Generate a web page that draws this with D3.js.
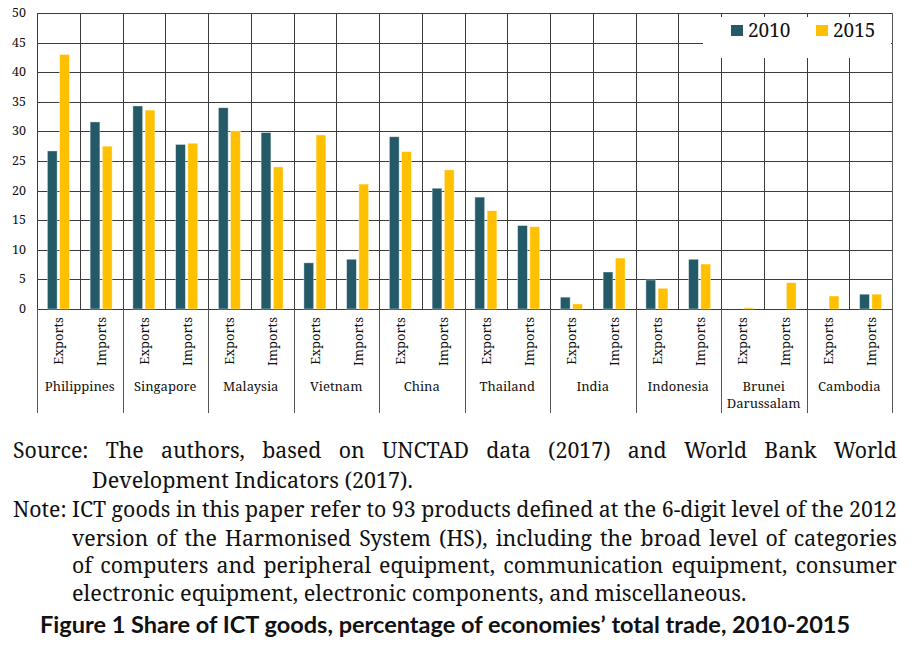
<!DOCTYPE html>
<html><head><meta charset="utf-8">
<script src="https://cdn.jsdelivr.net/npm/d3@7"></script>
<style>body{margin:0;background:#fff}svg{display:block}</style>
</head><body>
<svg id="c" width="917" height="653"></svg>
<script>
const countries = ["Philippines","Singapore","Malaysia","Vietnam","China","Thailand","India","Indonesia","Brunei Darussalam","Cambodia"];
const flows = ["Exports","Imports"];
const years = ["2010","2015"];
const values2010 = [26.7,31.6, 34.3,27.8, 34.0,29.8, 7.8,8.4, 29.1,20.4, 18.9,14.1, 2.0,6.25, 4.9,8.4, 0,0, 0,2.5];
const values2015 = [43.0,27.5, 33.6,28.0, 30.1,24.0, 29.4,21.1, 26.6,23.5, 16.6,13.9, 0.85,8.6, 3.5,7.6, 0.2,4.45, 2.2,2.5];
const yTicks = [0,5,10,15,20,25,30,35,40,45,50];
const colors = {"2010":"#245a68","2015":"#ffc000"};
const sourceLines = [
  "Source: The authors, based on UNCTAD data (2017) and World Bank World",
  "Development Indicators (2017)."
];
const noteLines = [
  "Note: ICT goods in this paper refer to 93 products defined at the 6-digit level of the 2012",
  "version of the Harmonised System (HS), including the broad level of categories",
  "of computers and peripheral equipment, communication equipment, consumer",
  "electronic equipment, electronic components, and miscellaneous."
];
const titleText = "Figure 1 Share of ICT goods, percentage of economies’ total trade, 2010-2015";

const svg = d3.select("#c");
const L = 37, R = 892, T = 13, B = 309;
const serif = "'Noto Serif','Liberation Serif',serif";

const cells = [];
countries.forEach((c,i)=>flows.forEach((f,j)=>cells.push({country:c, flow:f, idx:i*2+j,
  v2010: values2010[i*2+j], v2015: values2015[i*2+j]})));

const x = d3.scaleBand().domain(cells.map(d=>d.idx)).range([L,R]);
const xc = d3.scaleBand().domain(countries).range([L,R]);
const y = d3.scaleLinear().domain([0,50]).range([B,T]);

const grid = svg.append("g").attr("shape-rendering","crispEdges").attr("stroke","#3c3c3c").attr("stroke-width",1);
grid.selectAll("line.h").data(yTicks).join("line")
  .attr("x1",L).attr("x2",R).attr("y1",d=>Math.round(y(d))+0.5).attr("y2",d=>Math.round(y(d))+0.5);
grid.selectAll("line.v").data(d3.range(21)).join("line")
  .attr("x1",d=>Math.round(L+d*x.step())+0.5).attr("x2",d=>Math.round(L+d*x.step())+0.5)
  .attr("y1",T).attr("y2",B);
grid.selectAll("line.s").data(d3.range(11)).join("line")
  .attr("stroke","#555")
  .attr("x1",d=>Math.round(L+d*xc.step())+0.5).attr("x2",d=>Math.round(L+d*xc.step())+0.5)
  .attr("y1",B).attr("y2",413);

// legend
const lg = svg.append("g");
lg.append("rect").attr("x",703).attr("y",17).attr("width",188).attr("height",41).attr("fill","#fff");
years.forEach((yr,i)=>{
  const lx = 731 + i*85;
  lg.append("rect").attr("x",lx).attr("y",25).attr("width",12).attr("height",11).attr("fill",colors[yr]);
  lg.append("text").attr("x",lx+17).attr("y",37).attr("font-family",serif).attr("font-size",19)
    .attr("fill","#111").text(yr);
});
svg.append("line").attr("x1",R+0.5).attr("x2",R+0.5).attr("y1",T).attr("y2",B).attr("stroke","#555").attr("shape-rendering","crispEdges");

// bars
const xs = d3.scaleBand().domain(years).range([-11,11]).paddingInner(0.2);
const bars = svg.append("g");
cells.forEach(d=>{
  const cx = x(d.idx) + x.bandwidth()/2;
  years.forEach(yr=>{
    const v = yr==="2010" ? d.v2010 : d.v2015;
    if (v<=0) return;
    bars.append("rect")
      .attr("x", cx + xs(yr)).attr("width", xs.bandwidth())
      .attr("y", y(v)).attr("height", y(0)-y(v))
      .attr("fill", colors[yr]).attr("stroke","rgba(255,255,255,0.5)").attr("stroke-width",0.8);
  });
});

// y tick labels
svg.append("g").selectAll("text").data(yTicks).join("text")
  .attr("x",26).attr("y",d=>y(d)+4).attr("text-anchor","end")
  .attr("font-family",serif).attr("font-size",12.5).attr("fill","#111").text(d=>d);

// flow labels
svg.append("g").selectAll("text").data(cells).join("text")
  .attr("transform",d=>`translate(${x(d.idx)+x.bandwidth()/2+5},317) rotate(-90)`)
  .attr("text-anchor","end").attr("font-family",serif).attr("font-size",13).attr("fill","#111")
  .text(d=>d.flow);

// country labels
const cl = svg.append("g");
countries.forEach(c=>{
  const cx = xc(c)+xc.bandwidth()/2;
  const parts = c==="Brunei Darussalam" ? ["Brunei","Darussalam"] : [c];
  parts.forEach((p,k)=>cl.append("text").attr("x",cx).attr("y",391+k*17)
    .attr("text-anchor","middle").attr("font-family",serif).attr("font-size",13).attr("fill","#111").text(p));
});

// notes
const FS = 22;
function measure(str, opts={}){
  const t = svg.append("text").attr("font-family",opts.family||serif).attr("font-size",opts.size||FS)
    .attr("font-weight",opts.weight||"normal").text(str);
  const w = t.node().getComputedTextLength(); t.remove(); return w;
}
const sBase = 884 / measure(noteLines[0]);
function textLine(str, x0, x1, yb, justify, opts={}){
  const w = measure(str, opts);
  const target = x1-x0;
  const gaps = (str.match(/ /g)||[]).length;
  let s = sBase, ws = 0;
  if (justify){
    if (w*s > target) s = target/w;
    else ws = (target/s - w)/gaps;
  } else {
    s = target/w;
  }
  const g = svg.append("g").attr("transform",`translate(${x0},${yb}) scale(${s},1)`);
  const t = g.append("text").attr("x",0).attr("y",0)
    .attr("font-family",opts.family||serif).attr("font-size",opts.size||FS)
    .attr("font-weight",opts.weight||"normal").attr("fill","#111").text(str);
  if (ws) t.style("word-spacing", ws+"px");
}
textLine(sourceLines[0], 13, 897, 458, true);
textLine(sourceLines[1], 92, 413, 488, false);
textLine(noteLines[0], 13, 897, 517, true);
textLine(noteLines[1], 72, 897, 546, true);
textLine(noteLines[2], 72, 897, 573, true);
textLine(noteLines[3], 72, 747, 601, false);
textLine(titleText, 40, 851, 633, false, {family:"Lato,'Open Sans',sans-serif", size:22.5, weight:"bold"});
</script>
</body></html>
